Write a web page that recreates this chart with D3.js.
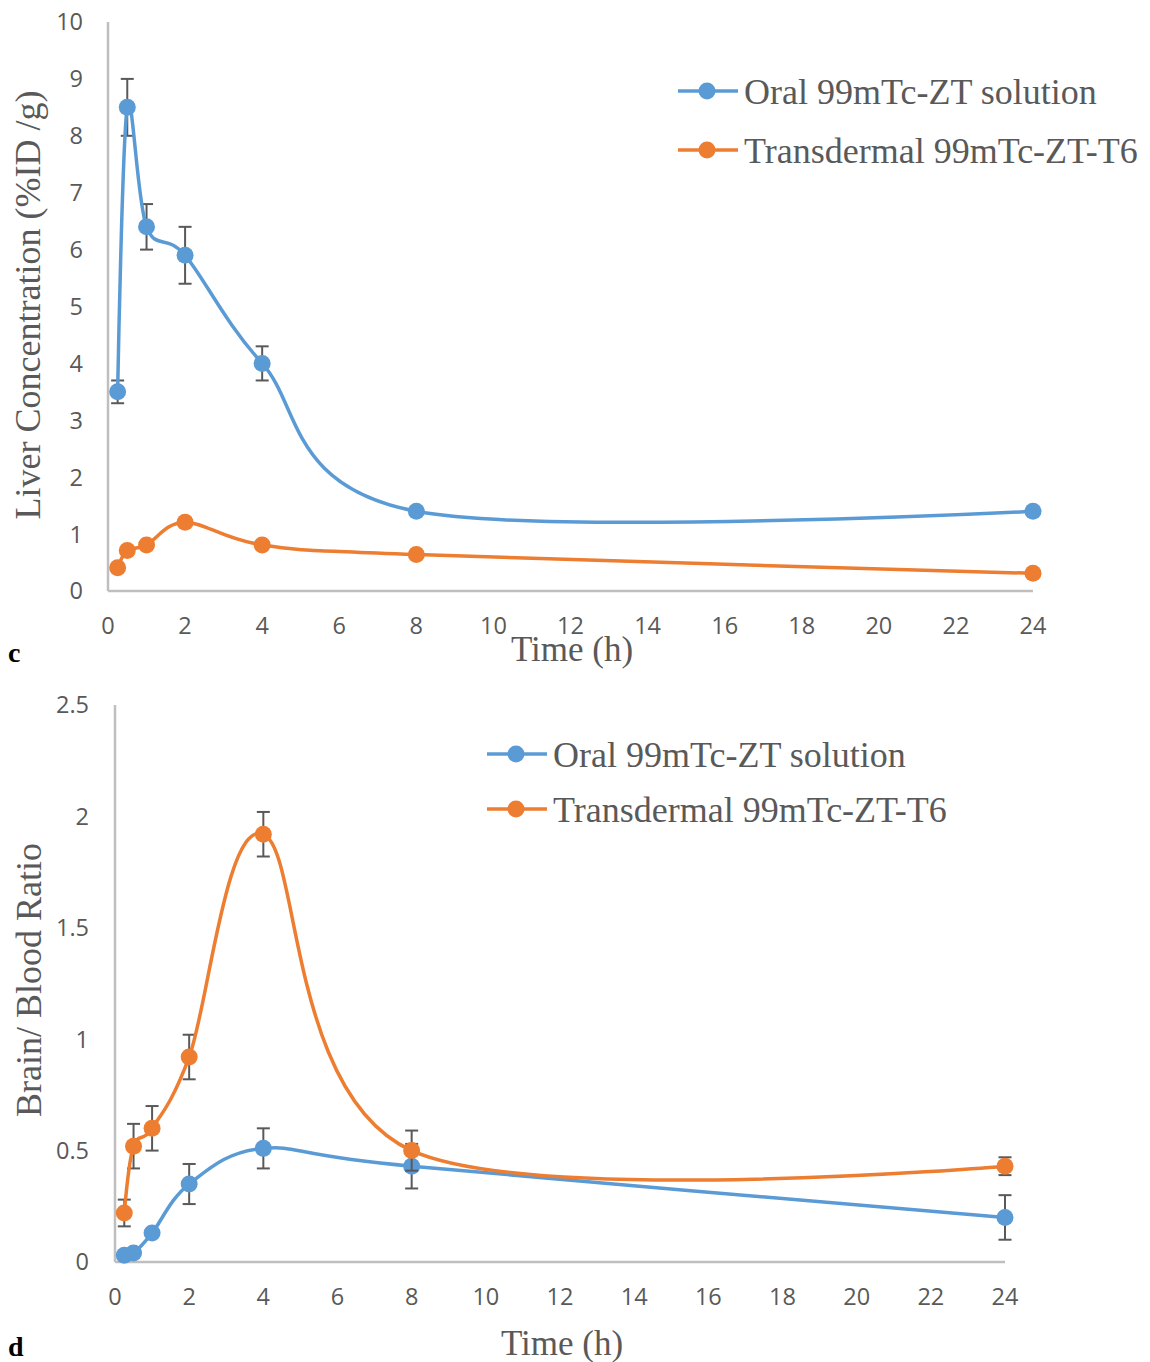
<!DOCTYPE html>
<html>
<head>
<meta charset="utf-8" />
<title>Liver concentration and brain/blood ratio</title>
<script src="https://cdn.jsdelivr.net/npm/d3@7"></script>
<style>
html, body {
  margin: 0;
  background: #fff;
}
svg text.tick-label {
  font-family: "Open Sans", sans-serif;
  font-size: 23.5px;
  fill: #595959;
}
svg text.serif {
  font-family: "Liberation Serif", "Times New Roman", serif;
  fill: #595959;
}
</style>
</head>
<body>
<svg id="chart" width="1150" height="1362"></svg>
<script>

// sampling times (h), shared by both panels
var times = [0.25, 0.5, 1, 2, 4, 8, 24];
var xTicks = [0, 2, 4, 6, 8, 10, 12, 14, 16, 18, 20, 22, 24];

var seriesNames = ["Oral 99mTc-ZT solution", "Transdermal 99mTc-ZT-T6"];

// panel c : liver concentration (%ID/g)
var liverOral = [3.5, 8.5, 6.4, 5.9, 4.0, 1.4, 1.4];
var liverOralErr = [0.2, 0.5, 0.4, 0.5, 0.3, 0, 0];
var liverTrans = [0.41, 0.71, 0.81, 1.21, 0.81, 0.64, 0.31];
var liverTransErr = [0, 0, 0, 0, 0, 0, 0];
var liverTicks = [0, 1, 2, 3, 4, 5, 6, 7, 8, 9, 10];

// panel d : brain / blood ratio
var brainOral = [0.03, 0.04, 0.13, 0.35, 0.51, 0.43, 0.2];
var brainOralErr = [0, 0, 0, 0.09, 0.09, 0.1, 0.1];
var brainTrans = [0.22, 0.52, 0.6, 0.92, 1.92, 0.5, 0.43];
var brainTransErr = [0.06, 0.1, 0.1, 0.1, 0.1, 0.09, 0.04];
var brainTicks = [0, 0.5, 1, 1.5, 2, 2.5];

var colors = ["#5B9BD5", "#ED7D31"];

var svg = d3.select("#chart");

function drawPanel(p) {
  var g = svg.append("g");
  var x = d3.scaleLinear().domain([0, 24]).range([p.left, p.right]);
  var y = d3.scaleLinear().domain([0, p.ymax]).range([p.bottom, p.top]);

  // axes lines
  g.append("line")
    .attr("x1", p.left).attr("x2", p.left)
    .attr("y1", p.top).attr("y2", p.bottom)
    .attr("stroke", "#BFBFBF").attr("stroke-width", 2.5);
  g.append("line")
    .attr("x1", p.left).attr("x2", p.right)
    .attr("y1", p.bottom).attr("y2", p.bottom)
    .attr("stroke", "#BFBFBF").attr("stroke-width", 2.5);

  // tick labels
  g.selectAll("text.ylab").data(p.yTicks).enter().append("text")
    .attr("class", "tick-label")
    .attr("x", p.left - p.yLabelGap)
    .attr("y", function(d) { return y(d); })
    .attr("dy", "0.36em")
    .attr("text-anchor", "end")
    .text(function(d) { return d; });
  g.selectAll("text.xlab").data(xTicks).enter().append("text")
    .attr("class", "tick-label")
    .attr("x", function(d) { return x(d); })
    .attr("y", p.xLabelY)
    .attr("dy", "0.36em")
    .attr("text-anchor", "middle")
    .text(function(d) { return d; });

  // axis titles
  g.append("text").attr("class", "serif")
    .attr("x", p.xTitle[0]).attr("y", p.xTitle[1])
    .attr("text-anchor", "middle")
    .style("font-size", "35px")
    .text("Time (h)");
  g.append("text").attr("class", "serif")
    .attr("transform", "translate(" + p.yTitle[0] + "," + p.yTitle[1] + ") rotate(-90)")
    .attr("text-anchor", "middle")
    .style("font-size", "36px")
    .text(p.yTitleText);

  // panel letter
  g.append("text")
    .attr("x", 8).attr("y", p.letterY)
    .style("font-family", "Liberation Serif, serif")
    .style("font-weight", "bold")
    .style("font-size", "28px")
    .attr("fill", "#000")
    .text(p.letter);

  // Excel-style smoothing is close to a uniform Catmull-Rom spline
  var line = d3.line()
    .x(function(d) { return x(d.t); })
    .y(function(d) { return y(d.v); })
    .curve(d3.curveCatmullRom.alpha(0));

  p.series.forEach(function(s, i) {
    var pts = times.map(function(t, k) { return { t: t, v: s.values[k], e: s.err[k] }; });

    // error bars
    var eb = g.selectAll(null).data(pts.filter(function(d) { return d.e > 0; })).enter();
    eb.append("line")
      .attr("x1", function(d) { return x(d.t); }).attr("x2", function(d) { return x(d.t); })
      .attr("y1", function(d) { return y(d.v - d.e); }).attr("y2", function(d) { return y(d.v + d.e); })
      .attr("stroke", "#595959").attr("stroke-width", 2);
    [-1, 1].forEach(function(sgn) {
      eb.append("line")
        .attr("x1", function(d) { return x(d.t) - 6.5; }).attr("x2", function(d) { return x(d.t) + 6.5; })
        .attr("y1", function(d) { return y(d.v + sgn * d.e); }).attr("y2", function(d) { return y(d.v + sgn * d.e); })
        .attr("stroke", "#595959").attr("stroke-width", 2);
    });

    g.append("path")
      .datum(pts)
      .attr("fill", "none")
      .attr("stroke", colors[i])
      .attr("stroke-width", 3.5)
      .attr("d", line);

    g.selectAll(null).data(pts).enter().append("circle")
      .attr("cx", function(d) { return x(d.t); })
      .attr("cy", function(d) { return y(d.v); })
      .attr("r", 8.5)
      .attr("fill", colors[i]);
  });

  // legend
  seriesNames.forEach(function(name, i) {
    var ly = p.legend[1] + i * p.legendStep;
    g.append("line")
      .attr("x1", p.legend[0]).attr("x2", p.legend[0] + 60)
      .attr("y1", ly).attr("y2", ly)
      .attr("stroke", colors[i]).attr("stroke-width", 3.5);
    g.append("circle")
      .attr("cx", p.legend[0] + 29).attr("cy", ly).attr("r", 8.5)
      .attr("fill", colors[i]);
    g.append("text").attr("class", "serif")
      .attr("x", p.legend[0] + 66).attr("y", ly)
      .attr("dy", "0.35em")
      .style("font-size", "36px")
      .text(name);
  });
}

drawPanel({
  left: 108, right: 1033, top: 22, bottom: 591, ymax: 10,
  yTicks: liverTicks, yLabelGap: 25, xLabelY: 626,
  xTitle: [572, 661], yTitle: [40, 305], yTitleText: "Liver Concentration (%ID /g)",
  letter: "c", letterY: 662,
  legend: [678, 91], legendStep: 59,
  series: [
    { values: liverOral, err: liverOralErr },
    { values: liverTrans, err: liverTransErr }
  ]
});

drawPanel({
  left: 115, right: 1005, top: 705, bottom: 1262, ymax: 2.5,
  yTicks: brainTicks, yLabelGap: 26, xLabelY: 1297,
  xTitle: [562, 1355], yTitle: [41, 980], yTitleText: "Brain/ Blood Ratio",
  letter: "d", letterY: 1356,
  legend: [487, 754], legendStep: 55,
  series: [
    { values: brainOral, err: brainOralErr },
    { values: brainTrans, err: brainTransErr }
  ]
});

</script>
</body>
</html>
